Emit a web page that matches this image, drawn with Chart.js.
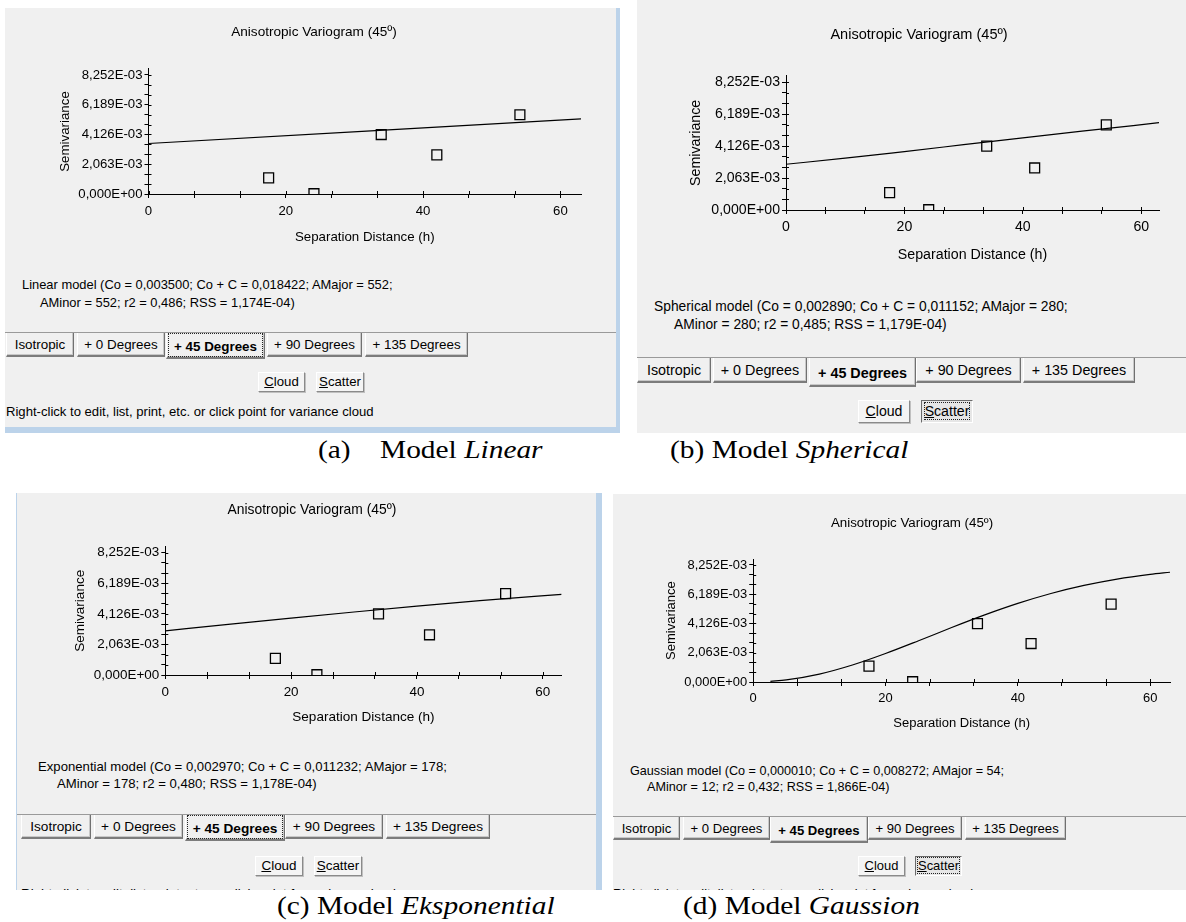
<!DOCTYPE html>
<html>
<head>
<meta charset="utf-8">
<script src="https://cdn.jsdelivr.net/npm/chart.js@4.4.1/dist/chart.umd.min.js"></script>
<style>
  body { margin: 0; background: #fff; width: 1186px; height: 922px; position: relative; overflow: hidden;
         font-family: "Liberation Sans", Arial, sans-serif; color: #000; }
  .panel { position: absolute; background: #f0f0f0; overflow: hidden; }
  .txt { position: absolute; white-space: pre; }
  .tabline { position: absolute; height: 1px; background: #9a9a9a; }
  .tab { position: absolute; box-sizing: border-box; background: #f0f0f0; text-align: center; white-space: pre;
         border-left: 1px solid #fff; border-right: 1px solid #707070; border-bottom: 2px solid #7c7c7c;
         box-shadow: inset -1px -1px 0 #c8c8c8; }
  .tab.sel { font-weight: bold; }
  .tab span { display: block; position: absolute; left: 2px; right: 2px; top: 1px; bottom: 1px; }
  .tab.focus span { outline: 1px dotted #222; }
  .btn { position: absolute; box-sizing: border-box; background: #f4f4f4; text-align: center; white-space: pre;
         border: 1px solid; border-color: #fff #8a8a8a #8a8a8a #fff; box-shadow: 1px 1px 0 #c0c0c0; }
  .btn.pressed { background: #e6e6e6; border-color: #6a6a6a #fff #fff #6a6a6a; box-shadow: none; }
  .btn.pressed span { outline: 1px dotted #222; }
  .caption { position: absolute; white-space: pre; font-family: "Liberation Serif", "Times New Roman", serif;
             font-size: 24.5px; line-height: 28px; transform: scaleX(1.2); transform-origin: left center; }
  canvas { position: absolute; }
</style>
</head>
<body>
<script>
// measured lag classes (same in all four panels)
const lagDistance = [17.5, 24.1, 33.9, 42.0, 54.1];
const semivariance = [0.00112, 0.00002, 0.00412, 0.00271, 0.00549];

// fitted model curves
const linearH = [0, 63];
const linearG = [0.00350, 0.00520];
const sphericalH = [0, 10, 20, 30, 40, 50, 63];
const sphericalG = [0.00295, 0.00334, 0.00377, 0.00421, 0.00465, 0.00508, 0.00563];
const exponentialH = [0, 10, 20, 30, 40, 50, 63];
const exponentialG = [0.00298, 0.00342, 0.00384, 0.00425, 0.00464, 0.00501, 0.00544];
const gaussianH = [2.6, 5, 10, 15, 20, 25, 30, 35, 40, 45, 50, 55, 60, 63];
const gaussianG = [0.00005, 0.00015, 0.00056, 0.00120, 0.00201, 0.00291, 0.00384, 0.00473, 0.00554,
                   0.00624, 0.00681, 0.00726, 0.00759, 0.00774];

// axes
const yMajorTicks = [0, 0.002063, 0.004126, 0.006189, 0.008252];
const xMajorTicks = [0, 20, 40, 60];
const minorSteps = 3;
const yMax = 0.00866;
const xMax = 63;

const chartTitle = "Anisotropic Variogram (45º)";
const yTitle = "Semivariance";
const xTitle = "Separation Distance (h)";
const tabLabels = ["Isotropic", "+ 0 Degrees", "+ 45 Degrees", "+ 90 Degrees", "+ 135 Degrees"];
const statusText = "Right-click to edit, list, print, etc. or click point for variance cloud";

const modelTexts = [
  ["Linear model (Co = 0,003500; Co + C = 0,018422; AMajor = 552;", "AMinor = 552; r2 = 0,486; RSS = 1,174E-04)"],
  ["Spherical model (Co = 0,002890; Co + C = 0,011152; AMajor = 280;", "AMinor = 280; r2 = 0,485; RSS = 1,179E-04)"],
  ["Exponential model (Co = 0,002970; Co + C = 0,011232; AMajor = 178;", "AMinor = 178; r2 = 0,480; RSS = 1,178E-04)"],
  ["Gaussian model (Co = 0,000010; Co + C = 0,008272; AMajor = 54;", "AMinor = 12; r2 = 0,432; RSS = 1,866E-04)"]
];
const captions = [["(a)    Model ", "Linear"], ["(b) Model ", "Spherical"], ["(c) Model ", "Eksponential"], ["(d) Model ", "Gaussion"]];
const curves = [[linearH, linearG], [sphericalH, sphericalG], [exponentialH, exponentialG], [gaussianH, gaussianG]];

// screen layout of the four screenshots (page pixels); s = text scale of each screenshot
const layouts = [
  { box: [5, 8, 616, 427], s: 1.0, x0: 148.5, xEnd: 581, y0: 194, yTop: 69, titleX: 314, titleY: 32,
    yTitleX: 65, xTitleY: 237, lines: [[22, 285], [40, 303]], tabY: 332, tabB: 357, selB: 359,
    tabs: [[6, 74], [77, 165], [166, 265], [267, 362], [365, 468]], tabFocus: true,
    btnY: [372, 392], cloud: [258, 305], scatter: [316, 364], pressed: false, status: [6, 412], cap: [318, 450] },
  { box: [637, 0, 1186, 433], s: 1.07, x0: 786, xEnd: 1159, y0: 210, yTop: 75.7, titleX: 919, titleY: 35,
    yTitleX: 696, xTitleY: 255, lines: [[654, 307], [674, 325]], tabY: 357, tabB: 383, selB: 387,
    tabs: [[637, 711], [713, 807], [809, 916], [916, 1021], [1023, 1135]], tabFocus: false,
    btnY: [400, 423], cloud: [858, 910], scatter: [921, 973], pressed: true, status: null, cap: [670, 450] },
  { box: [16, 493, 596, 890], s: 1.02, x0: 165.3, xEnd: 561.6, y0: 675, yTop: 546.6, titleX: 312, titleY: 510,
    yTitleX: 80, xTitleY: 717, lines: [[38, 767], [57, 784]], tabY: 814, tabB: 839, selB: 841,
    tabs: [[21, 91], [94, 183], [185, 285], [285, 383], [386, 490]], tabFocus: true,
    btnY: [856, 876], cloud: [255, 303], scatter: [314, 362], pressed: false, status: [21, 894], cap: [277, 906] },
  { box: [613, 494, 1186, 890], s: 0.98, x0: 753.2, xEnd: 1170, y0: 682, yTop: 559.2, titleX: 912, titleY: 523,
    yTitleX: 671, xTitleY: 723, lines: [[630, 771], [647, 787]], tabY: 816, tabB: 840, selB: 843,
    tabs: [[613, 680], [683, 770], [770, 868], [868, 962], [965, 1066]], tabFocus: false,
    btnY: [856, 876], cloud: [858, 905], scatter: [915, 962], pressed: true, status: [613, 894], cap: [683, 906] }
];

function withMinor(majors) {
  const out = [];
  for (let i = 0; i < majors.length - 1; i++) {
    for (let k = 0; k < minorSteps; k++) out.push(majors[i] + (k * (majors[i + 1] - majors[i])) / minorSteps);
  }
  out.push(majors[majors.length - 1]);
  return out;
}

function sci(v) {
  let [m, e] = v.toExponential(3).split("e");
  const sign = e[0] === "-" ? "-" : "+";
  e = e.replace(/[+-]/, "").padStart(2, "0");
  return m.replace(".", ",") + "E" + sign + e;
}

const crossTicks = {
  id: "crossTicks",
  afterDraw(chart) {
    const { ctx, scales: { x, y } } = chart;
    ctx.save();
    ctx.strokeStyle = "#000";
    ctx.lineWidth = 1;
    ctx.beginPath();
    x.ticks.forEach((t) => {
      const px = Math.round(x.getPixelForValue(t.value)) + 0.5;
      ctx.moveTo(px, y.bottom);
      ctx.lineTo(px, y.bottom - 3);
    });
    y.ticks.forEach((t) => {
      const py = Math.round(y.getPixelForValue(t.value)) + 0.5;
      ctx.moveTo(x.left, py);
      ctx.lineTo(x.left + 3, py);
    });
    ctx.stroke();
    ctx.restore();
  }
};

function add(parent, cls, html, css) {
  const d = document.createElement("div");
  d.className = cls;
  d.innerHTML = html;
  Object.assign(d.style, css);
  parent.appendChild(d);
  return d;
}

const xTickValues = withMinor(xMajorTicks);
const yTickValues = withMinor(yMajorTicks);
const fam = "'Liberation Sans', Arial, sans-serif";

layouts.forEach((p, n) => {
  const [bx, by, bx2, by2] = p.box;
  const fs = {
    text: 12.9 * p.s, title: 13.6 * p.s, axis: 13.3 * p.s, ticks: 13.2 * p.s,
    tab: 13.4 * p.s, btn: 13.2 * p.s, status: 13.1 * p.s
  };
  const f = (size) => ({ family: fam, size: size, weight: "normal", lineHeight: 1.2 });

  const panel = add(document.body, "panel", "", {
    left: bx + "px", top: by + "px", width: bx2 - bx + "px", height: by2 - by + "px"
  });
  const rel = (x, y) => ({ left: x - bx + "px", top: y - by + "px" });

  // chart canvas
  const W = Math.round(p.xEnd - bx + 20);
  const H = Math.round(p.xTitleY + 12 - by);
  const canvas = document.createElement("canvas");
  canvas.width = W;
  canvas.height = H;
  canvas.style.left = "0px";
  canvas.style.top = "0px";
  canvas.style.width = W + "px";
  canvas.style.height = H + "px";
  panel.appendChild(canvas);

  const tlh = fs.title * 1.2;
  const alh = fs.axis * 1.2;
  const padLeft = 2 * p.titleX - bx - p.xEnd;
  const padRight = bx + W - p.xEnd;
  const titleTop = p.titleY - by - tlh / 2;
  const titleBottom = p.yTop - by - titleTop - tlh;

  new Chart(canvas.getContext("2d"), {
    type: "scatter",
    data: {
      datasets: [
        {
          data: lagDistance.map((h, i) => ({ x: h, y: semivariance[i] })),
          pointStyle: "rect",
          pointRadius: 7,
          pointBorderWidth: 1.3,
          pointBorderColor: "#000",
          pointBackgroundColor: "rgba(0,0,0,0)",
          showLine: false
        },
        {
          data: curves[n][0].map((h, i) => ({ x: h, y: curves[n][1][i] })),
          showLine: true,
          pointRadius: 0,
          borderColor: "#000",
          borderWidth: 1.2,
          cubicInterpolationMode: "monotone",
          fill: false
        }
      ]
    },
    options: {
      responsive: false,
      animation: false,
      devicePixelRatio: 1,
      layout: { padding: { left: padLeft, right: padRight, top: 0, bottom: 0 } },
      plugins: {
        legend: { display: false },
        tooltip: { enabled: false },
        title: {
          display: true,
          text: chartTitle,
          color: "#000",
          font: f(fs.title),
          padding: { top: titleTop, bottom: titleBottom }
        }
      },
      scales: {
        x: {
          type: "linear",
          min: 0,
          max: xMax,
          afterBuildTicks: (s) => { s.ticks = xTickValues.map((v) => ({ value: v })); },
          afterFit: (s) => { s.height = H + by - p.y0; },
          ticks: {
            autoSkip: false,
            maxRotation: 0,
            color: "#000",
            font: f(fs.ticks),
            padding: 5,
            callback: (v) => (xMajorTicks.includes(v) ? String(v) : "")
          },
          grid: { drawOnChartArea: false, drawTicks: true, tickLength: 4, color: "#000" },
          border: { display: true, color: "#000", width: 1 },
          title: { display: true, text: xTitle, color: "#000", font: f(fs.axis), padding: { top: 0, bottom: 12 - alh / 2 } }
        },
        y: {
          type: "linear",
          min: 0,
          max: yMax,
          afterBuildTicks: (s) => { s.ticks = yTickValues.map((v) => ({ value: v })); },
          afterFit: (s) => { s.width = p.x0 - bx - padLeft; },
          ticks: {
            autoSkip: false,
            color: "#000",
            font: f(fs.ticks),
            padding: 2,
            callback: (v, i) => (i % minorSteps === 0 ? sci(v) : "")
          },
          grid: { drawOnChartArea: false, drawTicks: true, tickLength: 4, color: "#000" },
          border: { display: true, color: "#000", width: 1 },
          title: {
            display: true, text: yTitle, color: "#000", font: f(fs.axis),
            padding: { top: p.yTitleX - bx - padLeft - alh / 2, bottom: 0 }
          }
        }
      }
    },
    plugins: [crossTicks]
  });

  // model description
  p.lines.forEach(([x, y], k) => {
    add(panel, "txt", modelTexts[n][k], Object.assign(rel(x, y - 8), { lineHeight: "16px", fontSize: fs.text + "px" }));
  });

  // tab strip
  add(panel, "tabline", "", Object.assign(rel(bx, p.tabY), { width: bx2 - bx + "px" }));
  p.tabs.forEach(([x1, x2], k) => {
    const sel = k === 2;
    const bottom = sel ? p.selB : p.tabB;
    const h = bottom - p.tabY - 1;
    add(panel, "tab" + (sel ? " sel" : "") + (sel && p.tabFocus ? " focus" : ""),
      "<span>" + tabLabels[k] + "</span>",
      Object.assign(rel(x1, p.tabY + 1), {
        width: x2 - x1 + "px", height: h + "px", fontSize: fs.tab + "px",
        lineHeight: h - 2 + (sel ? 2 : 0) + "px", zIndex: sel ? 2 : 1, borderTop: "0"
      }));
  });

  // Cloud / Scatter buttons
  const bh = p.btnY[1] - p.btnY[0];
  add(panel, "btn", "<u>C</u>loud", Object.assign(rel(p.cloud[0], p.btnY[0]), {
    width: p.cloud[1] - p.cloud[0] + "px", height: bh + "px", lineHeight: bh - 2 + "px", fontSize: fs.btn + "px"
  }));
  add(panel, "btn" + (p.pressed ? " pressed" : ""), "<span><u>S</u>catter</span>", Object.assign(rel(p.scatter[0], p.btnY[0]), {
    width: p.scatter[1] - p.scatter[0] + "px", height: bh + "px", lineHeight: bh - 2 + "px", fontSize: fs.btn + "px"
  }));

  if (p.status) {
    add(panel, "txt", statusText, Object.assign(rel(p.status[0], p.status[1] - 8), { lineHeight: "16px", fontSize: fs.status + "px" }));
  }

  // figure caption
  add(document.body, "caption", captions[n][0] + "<i>" + captions[n][1] + "</i>", {
    left: p.cap[0] + "px", top: p.cap[1] - 14 + "px"
  });
});

// light blue window frames
const frames = [[616, 8, 4, 425], [5, 427, 615, 6], [16, 493, 1, 397], [596, 493, 6, 397]];
frames.forEach(([x, y, w, h]) => {
  add(document.body, "", "", { position: "absolute", left: x + "px", top: y + "px", width: w + "px", height: h + "px", background: "#bcd3ea" });
});
</script>
</body>
</html>
